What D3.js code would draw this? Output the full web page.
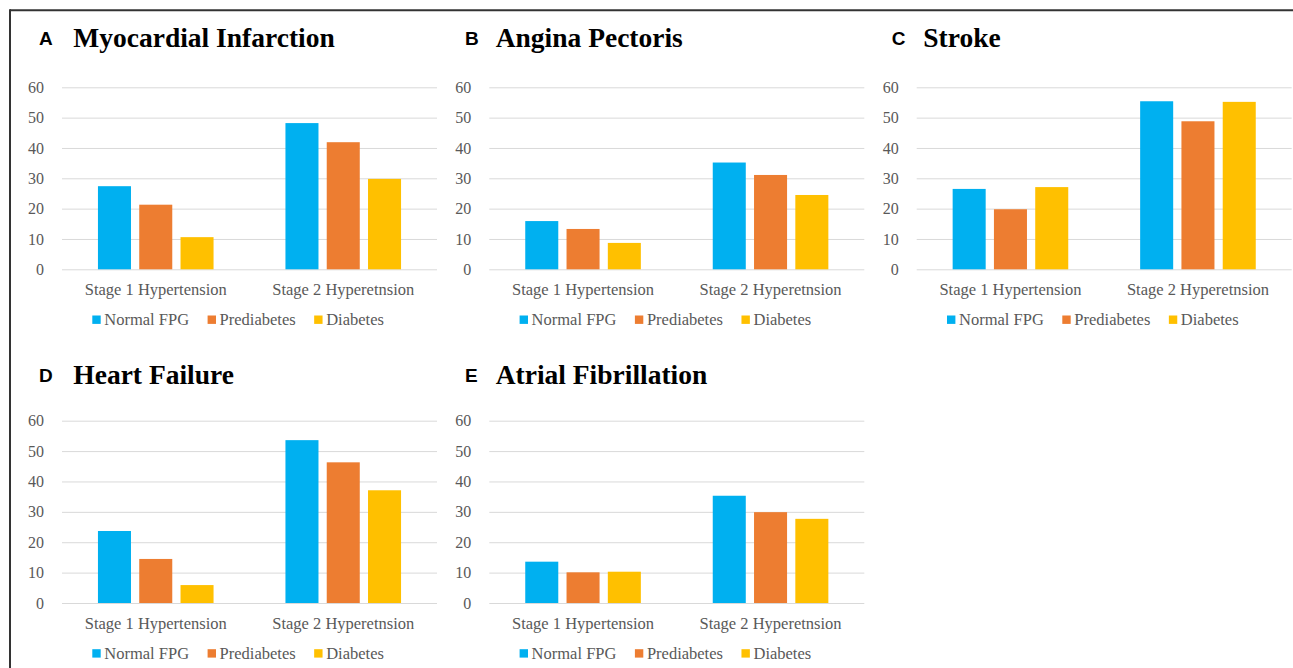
<!DOCTYPE html>
<html>
<head>
<meta charset="utf-8">
<script src="https://cdn.jsdelivr.net/npm/d3@7"></script>
<style>
  html, body { margin: 0; padding: 0; background: #fff; }
  svg { display: block; }
</style>
</head>
<body>
<svg id="chart" width="1293" height="668"></svg>
<script>
// Cumulative incidence by hypertension stage and fasting plasma glucose group
const categories = ["Stage 1 Hypertension", "Stage 2 Hyperetnsion"];
const seriesNames = ["Normal FPG", "Prediabetes", "Diabetes"];
const yTicks = [0, 10, 20, 30, 40, 50, 60];

// values per category: [Normal FPG, Prediabetes, Diabetes]
const myocardialInfarction = [[27.4, 21.3, 10.6], [48.2, 41.9, 29.8]];
const anginaPectoris       = [[15.9, 13.3, 8.7],  [35.2, 31.1, 24.5]];
const stroke               = [[26.5, 19.8, 27.1], [55.4, 48.8, 55.2]];
const heartFailure         = [[23.7, 14.5, 5.9],  [53.6, 46.3, 37.1]];
const atrialFibrillation   = [[13.6, 10.1, 10.3], [35.3, 29.9, 27.7]];

const panelLetters = ["A", "B", "C", "D", "E"];
const panelTitles = ["Myocardial Infarction", "Angina Pectoris", "Stroke", "Heart Failure", "Atrial Fibrillation"];
const panelValues = [myocardialInfarction, anginaPectoris, stroke, heartFailure, atrialFibrillation];

// layout of the 3 x 2 grid
const colPlotX  = [62, 489.3, 916.7];
const colLetterX = [39, 465, 891.7];
const colTitleX = [73.3, 495.7, 923.3];
const rowTop    = [87.3, 420.7];   // y of the top gridline
const rowBottom = [269.3, 603];    // y of the zero line
const rowTitleY = [47, 383.5];
const rowLetterY = [45, 381.5];
const plotWidth = 375;

const colors = d3.scaleOrdinal().domain(seriesNames).range(["#00B0F0", "#ED7D31", "#FFC000"]);
const serif = "'Liberation Serif', 'Times New Roman', serif";
const sans = "'Liberation Sans', Arial, sans-serif";

const svg = d3.select("#chart");

// outer frame (top and left edges)
svg.append("line").attr("x1", 10).attr("x2", 1293).attr("y1", 10.3).attr("y2", 10.3)
  .attr("stroke", "#333").attr("stroke-width", 2);
svg.append("line").attr("x1", 10).attr("x2", 10).attr("y1", 9.3).attr("y2", 668)
  .attr("stroke", "#333").attr("stroke-width", 2);

panelValues.forEach((values, i) => {
  const col = i % 3, row = Math.floor(i / 3);
  const x0 = colPlotX[col];
  const g = svg.append("g");

  const y = d3.scaleLinear().domain([0, 60]).range([rowBottom[row], rowTop[row]]);
  const xCat = d3.scaleBand().domain(categories).range([x0, x0 + plotWidth]);
  const groupW = 115.6;
  const xSer = d3.scaleBand().domain(seriesNames).range([-groupW / 2, groupW / 2])
    .paddingInner(0.2).paddingOuter(0);

  // gridlines + y tick labels
  const yAxis = g.append("g").attr("transform", `translate(${x0},0)`)
    .call(d3.axisLeft(y).tickValues(yTicks).tickSize(-plotWidth).tickPadding(18).tickFormat(d3.format("d")));
  yAxis.select(".domain").remove();
  yAxis.selectAll(".tick line").attr("stroke", "#d9d9d9").attr("stroke-width", 1);
  yAxis.selectAll(".tick text").attr("fill", "#595959")
    .style("font-family", serif).style("font-size", "16px");

  // bars
  const groups = g.selectAll(".cat").data(categories).join("g")
    .attr("transform", d => `translate(${xCat(d) + xCat.bandwidth() / 2},0)`);
  groups.selectAll("rect")
    .data((d, ci) => seriesNames.map((s, si) => ({ s, v: values[ci][si] })))
    .join("rect")
    .attr("x", d => xSer(d.s))
    .attr("width", xSer.bandwidth())
    .attr("y", d => y(d.v))
    .attr("height", d => y(0) - y(d.v))
    .attr("fill", d => colors(d.s));

  // category axis
  const xAxis = g.append("g").attr("transform", `translate(0,${rowBottom[row]})`)
    .call(d3.axisBottom(xCat).tickSize(0).tickPadding(14));
  xAxis.select(".domain").remove();
  xAxis.selectAll(".tick text").attr("fill", "#595959")
    .style("font-family", serif).style("font-size", "16.5px");

  // legend
  const legend = g.append("g").attr("transform", `translate(${x0 + 30.3},${rowBottom[row] + 55.8})`);
  let lx = 0;
  seriesNames.forEach(s => {
    legend.append("rect").attr("x", lx).attr("y", -9.6).attr("width", 8.4).attr("height", 8.4)
      .attr("fill", colors(s));
    const t = legend.append("text").attr("x", lx + 12).attr("y", 0).text(s)
      .attr("fill", "#595959").style("font-family", serif).style("font-size", "16.5px");
    lx += 12 + t.node().getComputedTextLength() + 18.5;
  });

  // panel letter and title
  svg.append("text").attr("x", colLetterX[col]).attr("y", rowLetterY[row]).text(panelLetters[i])
    .style("font-family", sans).style("font-weight", "bold").style("font-size", "19px").attr("fill", "#000");
  svg.append("text").attr("x", colTitleX[col]).attr("y", rowTitleY[row]).text(panelTitles[i])
    .style("font-family", serif).style("font-weight", "bold").style("font-size", "27.5px").attr("fill", "#000");
});
</script>
</body>
</html>
